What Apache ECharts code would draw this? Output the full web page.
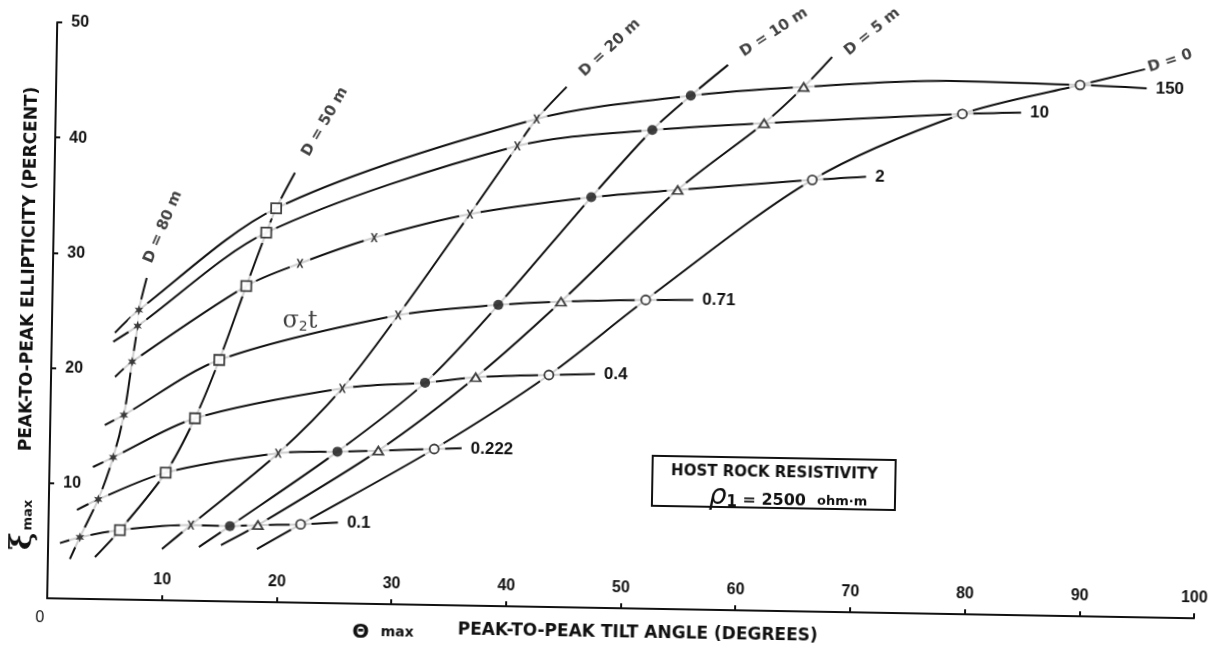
<!DOCTYPE html>
<html>
<head>
<meta charset="utf-8">
<script src="https://cdn.jsdelivr.net/npm/echarts@6/dist/echarts.min.js"></script>
<style>
  html, body { margin: 0; padding: 0; background: #fff; overflow: hidden; }
  #chart { position: absolute; left: 0; top: 0; width: 1216px; height: 653px;
           transform: rotate(1deg); transform-origin: 50% 50%; }
</style>
</head>
<body>
<div id="chart"></div>
<script>
// σ2t values labelling the ellipticity/tilt curves, bottom to top
const sigmaLabels = ['0.1', '0.222', '0.4', '0.71', '2', '10', '150'];
// depth curves, left to right
const depthLabels = ['D = 80 m', 'D = 50 m', 'D = 20 m', 'D = 10 m', 'D = 5 m', 'D = 0'];

// Nodes [θmax (deg), ξmax (%)] along each depth curve, one per σ2t value
const d80 = [[2.76, 5.34], [4.30, 8.66], [5.54, 12.33], [6.41, 16.02], [7.05, 20.66], [7.47, 23.77], [7.56, 25.16]];
const d50 = [[6.24, 6.03], [10.14, 11.08], [12.61, 15.84], [14.64, 20.94], [16.88, 27.40], [18.54, 32.06], [19.37, 34.19]];
const d20 = [[12.42, 6.57], [19.92, 12.93], [25.41, 18.67], [30.17, 25.11], [36.27, 33.99], [40.30, 39.97], [41.94, 42.34]];
const d10 = [[15.82, 6.54], [25.08, 13.16], [32.61, 19.28], [38.88, 26.14], [46.82, 35.63], [52.04, 41.56], [55.34, 44.59]];
const d5  = [[18.26, 6.67], [28.64, 13.31], [37.02, 19.83], [44.34, 26.52], [54.34, 36.39], [61.77, 42.31], [65.17, 45.52]];
const d0  = [[21.98, 6.80], [33.51, 13.54], [43.40, 20.14], [51.72, 26.80], [66.06, 37.47], [79.04, 43.42], [89.26, 46.11]];

// two further x points on the σ2t = 2 curve
const sigma2Extra = [[21.53, 29.45], [27.96, 31.79]];
// crest of the σ2t = 150 curve between D = 5 m and D = 0
const sigma150Crest = [77.63, 46.27];

// left ends of the σ2t curves and right ends of their label leaders
const sigmaStart = [[1.03, 4.81], [2.46, 7.71], [3.79, 11.46], [4.76, 15.12], [5.58, 19.31], [5.37, 22.37], [5.50, 23.15]];
const sigmaEnd   = [[25.23, 7.01], [35.90, 13.64], [47.41, 20.30], [55.87, 26.87], [70.74, 37.83], [84.16, 43.62], [95.07, 45.93]];

// lower and upper ends of the depth curves
const depthStart = [[1.92, 3.44], [4.10, 3.65], [9.93, 4.45], [13.15, 4.68], [15.07, 4.88], [18.21, 4.59]];
const depthEnd   = [[8.19, 27.95], [20.95, 37.31], [44.51, 45.17], [58.54, 47.32], [67.60, 48.17], [94.90, 47.58]];

// ---------------------------------------------------------------------------
const ink = '#111';
const depthSets = [d80, d50, d20, d10, d5, d0];

// where the depth captions sit along their curves, and their slant (deg)
const depthLabelAt = [[9.53, 32.40], [23.49, 41.76], [48.22, 48.61], [62.50, 50.21], [71.05, 50.40], [97.07, 48.33]];
const depthLabelAngle = [68, 61, 44, 34, 40, 19];
const sigmaCaptionAt = [21.61, 24.44];

const starPath = 'path://M0,-10L2.25,-3.9L8.66,-5L4.5,0L8.66,5L2.25,3.9L0,10L-2.25,3.9L-8.66,5L-4.5,0L-8.66,-5L-2.25,-3.9Z';
const crossPath = 'path://M0,0L2.6,0L5,3.3L7.4,0L10,0L6.4,5L10,10L7.4,10L5,6.7L2.6,10L0,10L3.6,5Z';

const markerStyle = [
  { symbol: starPath,   size: 10,      fill: ink,    keep: true },
  { symbol: 'rect',     size: 10,      fill: '#fff', keep: false },
  { symbol: crossPath,  size: [7, 9],  fill: ink,    keep: false },
  { symbol: 'circle',   size: 10,      fill: ink,    keep: false },
  { symbol: 'triangle', size: [10, 8], fill: '#fff', keep: false },
  { symbol: 'circle',   size: 9,       fill: '#fff', keep: false }
];

// σ2t curves pass through the node of every depth curve
const sigmaCurves = sigmaLabels.map((lab, i) => {
  const pts = [sigmaStart[i], d80[i], d50[i]];
  if (lab === '2') pts.push(...sigma2Extra);
  pts.push(d20[i], d10[i], d5[i]);
  if (lab === '150') pts.push(sigma150Crest);
  pts.push(d0[i], sigmaEnd[i]);
  return pts;
});
const depthCurves = depthSets.map((set, j) => [depthStart[j], ...set, depthEnd[j]]);

const series = [];

sigmaCurves.forEach((pts, i) => {
  series.push({
    type: 'line', name: 'σ2t ' + sigmaLabels[i], data: pts,
    smooth: 0.3, symbol: 'none', clip: false, silent: true, z: 2,
    lineStyle: { color: ink, width: 2 },
    endLabel: {
      show: true, formatter: sigmaLabels[i], distance: 9, color: ink,
      fontFamily: 'Liberation Sans', fontWeight: 'bold', fontSize: 17
    }
  });
});

depthCurves.forEach((pts, j) => {
  series.push({
    type: 'line', name: depthLabels[j], data: pts,
    smooth: 0.3, symbol: 'none', clip: false, silent: true, z: 2,
    lineStyle: { color: ink, width: 2 }
  });
});

// white discs that open a small gap in the lines around every marker
const allNodes = [].concat(...depthSets, sigma2Extra);
series.push({
  type: 'scatter', data: allNodes, symbol: 'circle', symbolSize: 22, clip: false, silent: true, z: 3,
  itemStyle: { color: '#fff', borderWidth: 0 }
});

depthSets.forEach((set, j) => {
  const m = markerStyle[j];
  series.push({
    type: 'scatter', name: depthLabels[j] + ' nodes', data: set,
    symbol: m.symbol, symbolSize: m.size, symbolKeepAspect: m.keep, clip: false, silent: true, z: 4,
    itemStyle: { color: m.fill, borderColor: ink, borderWidth: m.fill === '#fff' ? 1.8 : 0 }
  });
});
series.push({
  type: 'scatter', data: sigma2Extra, symbol: crossPath, symbolSize: [7, 9], clip: false, silent: true, z: 4,
  itemStyle: { color: ink }
});

// depth captions
series.push({
  type: 'scatter', symbolSize: 0, clip: false, silent: true, z: 5,
  data: depthLabels.map((lab, j) => ({
    value: depthLabelAt[j],
    label: {
      show: true, position: 'inside', formatter: lab, rotate: depthLabelAngle[j],
      color: ink, fontFamily: 'DejaVu Sans', fontWeight: 'bold', fontSize: 15
    }
  }))
});

// σ2t caption
series.push({
  type: 'scatter', symbolSize: 0, clip: false, silent: true, z: 5,
  data: [{
    value: sigmaCaptionAt,
    label: {
      show: true, position: 'inside', formatter: '{s|σ}{n|2}{s|t}',
      rich: {
        s: { fontFamily: 'DejaVu Serif', fontSize: 24, color: ink },
        n: { fontFamily: 'DejaVu Sans', fontSize: 14, color: ink, padding: [12, 0, 0, 0] }
      }
    }
  }]
});

const axisFont = { color: ink, fontFamily: 'Liberation Sans', fontWeight: 'bold', fontSize: 16 };

const option = {
  animation: false,
  backgroundColor: '#fff',
  grid: { left: 52, right: 17, top: 32, bottom: 45 },
  xAxis: {
    type: 'value', min: 0, max: 100, interval: 10,
    axisLine: { lineStyle: { color: ink, width: 2 } },
    axisTick: { inside: true, length: 5, lineStyle: { color: ink, width: 2 } },
    axisLabel: Object.assign({ inside: true, margin: 12, showMinLabel: false }, axisFont),
    splitLine: { show: false }
  },
  yAxis: {
    type: 'value', min: 0, max: 50, interval: 10,
    axisLine: { lineStyle: { color: ink, width: 2 } },
    axisTick: { inside: true, length: 5, lineStyle: { color: ink, width: 2 } },
    axisLabel: Object.assign({ inside: true, margin: 14, showMinLabel: false }, axisFont),
    splitLine: { show: false }
  },
  graphic: [
    { type: 'text', x: 28.5, y: 279, rotation: Math.PI / 2,
      style: { text: 'PEAK-TO-PEAK ELLIPTICITY (PERCENT)', fill: ink, font: 'bold 17px "DejaVu Sans"',
               textAlign: 'center', textVerticalAlign: 'middle', align: 'center', verticalAlign: 'middle' } },
    { type: 'text', x: 27, y: 535, rotation: Math.PI / 2,
      style: { text: '{xi|ξ}{m|max}', fill: ink,
               rich: { xi: { font: 'bold 30px "DejaVu Serif"', fill: ink },
                       m: { font: 'bold 13px "DejaVu Sans"', fill: ink, padding: [10, 0, 0, 2] } },
               textAlign: 'center', textVerticalAlign: 'middle', align: 'center', verticalAlign: 'middle' } },
    { type: 'text', x: 45, y: 628,
      style: { text: '0', fill: ink, font: '16px "Liberation Sans"',
               textAlign: 'center', textVerticalAlign: 'middle', align: 'center', verticalAlign: 'middle' } },
    { type: 'text', x: 366, y: 637,
      style: { text: 'Θ', fill: ink, font: 'bold 20px "DejaVu Sans"',
               textAlign: 'center', textVerticalAlign: 'middle', align: 'center', verticalAlign: 'middle' } },
    { type: 'text', x: 386, y: 636,
      style: { text: 'max', fill: ink, font: 'bold 14px "DejaVu Sans"',
               textAlign: 'left', textVerticalAlign: 'middle', align: 'left', verticalAlign: 'middle' } },
    { type: 'text', x: 643, y: 632.5,
      style: { text: 'PEAK-TO-PEAK TILT ANGLE (DEGREES)', fill: ink, font: 'bold 17px "DejaVu Sans"',
               textAlign: 'center', textVerticalAlign: 'middle', align: 'center', verticalAlign: 'middle' } },
    { type: 'rect', shape: { x: 655, y: 455, width: 243, height: 50 },
      style: { fill: 'none', stroke: ink, lineWidth: 2 } },
    { type: 'text', x: 777, y: 470,
      style: { text: 'HOST ROCK RESISTIVITY', fill: ink, font: 'bold 15px "DejaVu Sans"',
               textAlign: 'center', textVerticalAlign: 'middle', align: 'center', verticalAlign: 'middle' } },
    { type: 'text', x: 791, y: 495,
      style: { text: '{r|ρ}{s|1}{t| = 2500  }{u|ohm·m}', fill: ink,
               rich: { r: { font: 'italic 28px "DejaVu Sans"', fill: ink },
                       s: { font: 'bold 15px "DejaVu Sans"', fill: ink, padding: [10, 0, 0, 0] },
                       t: { font: 'bold 16px "DejaVu Sans"', fill: ink, padding: [6, 0, 0, 0] },
                       u: { font: 'bold 13px "DejaVu Sans"', fill: ink, padding: [6, 0, 0, 0] } },
               textAlign: 'center', textVerticalAlign: 'middle', align: 'center', verticalAlign: 'middle' } }
  ],
  series: series
};

const chart = echarts.init(document.getElementById('chart'), null, { renderer: 'canvas' });
chart.setOption(option);
</script>
</body>
</html>
